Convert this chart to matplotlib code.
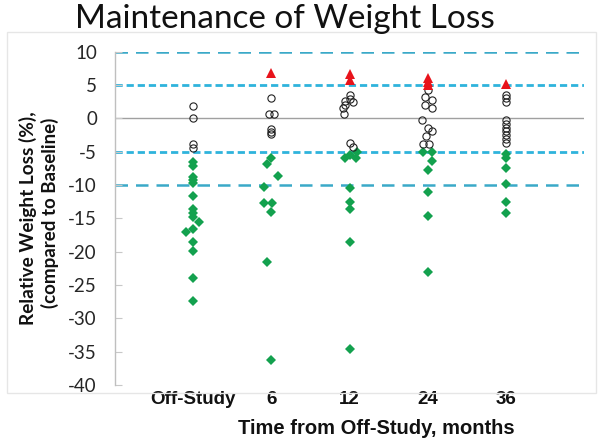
import matplotlib
matplotlib.use("Agg")
import matplotlib.pyplot as plt
from matplotlib.patches import Rectangle

# ---- data ----
categories = ["Off-Study", "6", "12", "24", "36"]

circles_off = [1.9, 0.1, -3.9, -4.5]
circles_6 = [3.1, 0.7, 0.7, -1.6, -2.0, -2.4]
circles_12 = [3.5, 2.9, 2.6, 2.5, 2.0, 1.5, 0.7, -3.7, -4.3]
circles_24 = [4.3, 3.2, 2.8, 2.0, 1.6, -0.2, -1.4, -1.9, -2.7, -3.8, -3.9]
circles_36 = [3.5, 3.0, 2.5, -0.2, -0.8, -1.4, -1.9, -2.5, -3.1, -3.7]

diamonds_off = [-6.5, -7.1, -8.8, -9.3, -9.7, -11.6, -13.6, -14.2, -14.8,
                -15.6, -16.6, -17.0, -18.5, -19.9, -23.9, -27.4]
diamonds_6 = [-6.0, -6.9, -8.7, -10.3, -12.7, -12.7, -14.0, -21.5, -36.3]
diamonds_12 = [-5.0, -5.5, -6.0, -6.0, -10.4, -12.6, -13.6, -18.5, -34.6]
diamonds_24 = [-5.0, -5.0, -6.4, -7.8, -11.0, -14.7, -23.0]
diamonds_36 = [-5.3, -5.9, -7.4, -9.8, -12.5, -14.2]

triangles_off = []
triangles_6 = [6.8]
triangles_12 = [6.7, 5.7]
triangles_24 = [6.1, 5.5, 5.0]
triangles_36 = [5.1]

# small horizontal jitter (in category units)
jit_circles = [
    [0, 0, 0, 0],
    [0, -0.03, 0.03, 0, 0, 0],
    [0, 0, -0.06, 0.05, -0.06, -0.08, -0.07, 0, 0.05],
    [0, -0.03, 0.05, -0.03, 0.05, -0.07, 0, 0.05, -0.02, -0.06, 0.02],
    [0] * 10,
]
jit_diamonds = [
    [0, 0, 0, 0, 0, 0, 0, 0, 0, 0.08, 0, -0.09, 0, 0, 0, 0],
    [0, -0.05, 0.08, -0.09, -0.09, 0.01, 0, -0.05, 0],
    [0.1, 0, -0.06, 0.08, 0, 0, 0, 0, 0],
    [-0.06, 0.05, 0.05, 0, 0, 0, 0],
    [0] * 6,
]

ref_dashed_inner = [5, -5]
ref_dashed_outer = [10, -10]
yticks = list(range(10, -45, -5))

circles = [circles_off, circles_6, circles_12, circles_24, circles_36]
diamonds = [diamonds_off, diamonds_6, diamonds_12, diamonds_24, diamonds_36]
triangles = [triangles_off, triangles_6, triangles_12, triangles_24, triangles_36]

# ---- figure ----
W, H = 601, 445
fig = plt.figure(figsize=(W / 100, H / 100), dpi=100)
fig.patch.set_facecolor("white")

# faint outer frame
fig.add_artist(Rectangle((7 / W, 1 - 393 / H), (596 - 7) / W, (393 - 32) / H,
                         transform=fig.transFigure, fill=False,
                         edgecolor="#e6e6e6", linewidth=1))

L, R, T, B = 115, 584, 51.7, 385
ax = fig.add_axes([L / W, 1 - B / H, (R - L) / W, (B - T) / H])
ax.set_xlim(0, 6)
ax.set_ylim(-40, 10)

for s in ["top", "right", "bottom"]:
    ax.spines[s].set_visible(False)
ax.spines["left"].set_color("#bfbfbf")
ax.spines["left"].set_linewidth(1)

ax.axhline(0, color="#a0a0a0", linewidth=1, zorder=1)
for y in ref_dashed_outer:
    ax.axhline(y, color="#3aa9c8", linewidth=1.8, dashes=(5, 3.2), zorder=1)
for y in ref_dashed_inner:
    ax.axhline(y, color="#2fb3dc", linewidth=2.0, dashes=(2.6, 1.4), zorder=1)

green = "#13a14e"
for i in range(5):
    xc = i + 1
    xs = [xc + j for j in jit_diamonds[i]]
    ax.plot(xs, diamonds[i], linestyle="none", marker="D", markersize=5.2,
            color=green, markeredgewidth=0, zorder=3)
    xs = [xc + j for j in jit_circles[i]]
    ax.plot(xs, circles[i], linestyle="none", marker="o", markersize=5.2,
            markerfacecolor="none", markeredgecolor="#222222",
            markeredgewidth=0.8, zorder=4)
    if triangles[i]:
        ax.plot([xc] * len(triangles[i]), triangles[i], linestyle="none",
                marker="^", markersize=7, color="#e8131b",
                markeredgewidth=0, zorder=5)

ax.set_yticks(yticks)
ax.set_yticklabels([str(v) for v in yticks], fontfamily="Lato", fontsize=13.5,
                   color="#262626")
ax.tick_params(axis="y", direction="in", length=5, color="#c8c8c8", pad=13)

ax.set_xticks([1, 2, 3, 4, 5])
ax.set_xticklabels(categories, fontfamily="Liberation Sans", fontweight="bold",
                   fontsize=13.5, color="#111111")
ax.tick_params(axis="x", length=0, pad=4)
ax.get_xticklabels()[0].set_x(0.93)

fig.text(376 / W, 1 - 428 / H, "Time from Off-Study, months", ha="center",
         va="center", fontfamily="Liberation Sans", fontweight="bold",
         fontsize=14.5, color="#111111")

fig.text(28 / W, 1 - 218 / H, "Relative Weight Loss (%),", rotation=90,
         ha="center", va="center", fontfamily="Lato", fontweight="bold",
         fontsize=13.7, color="#111111")
fig.text(50 / W, 1 - 213 / H, "(compared to Baseline)", rotation=90,
         ha="center", va="center", fontfamily="Lato", fontweight="bold",
         fontsize=13.5, color="#111111")

fig.text(75 / W, 1 - 28 / H, "Maintenance of Weight Loss", ha="left",
         va="baseline", fontfamily="Lato", fontsize=24, color="#111111")

fig.savefig("out.png", dpi=100, facecolor="white")
